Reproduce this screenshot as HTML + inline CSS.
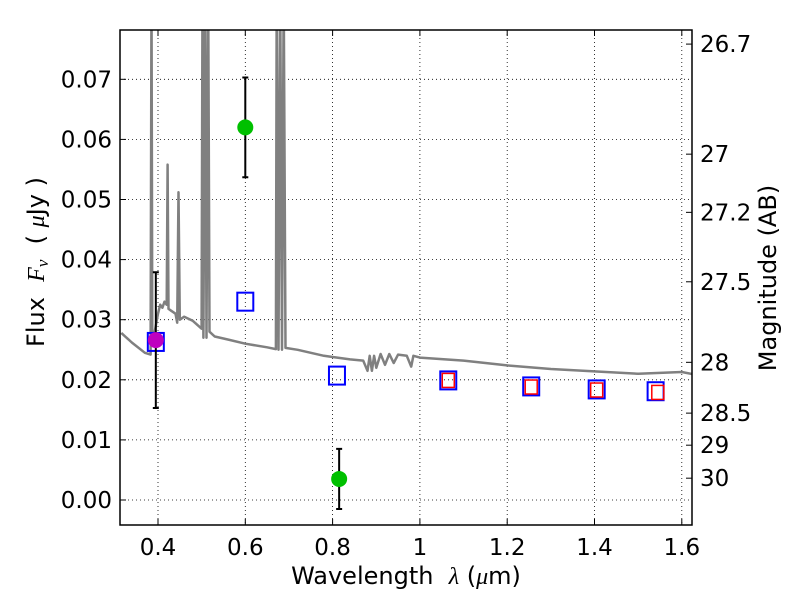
<!DOCTYPE html>
<html><head><meta charset="utf-8"><style>
body{margin:0;background:#fff}
svg{display:block;font-family:"DejaVu Sans","Liberation Sans",sans-serif}
text{white-space:pre}
</style></head><body>
<svg id="c" width="800" height="600"></svg>
<script>
const specWave=[0.316,0.34,0.37,0.383,0.385,0.387,0.39,0.395,0.40,0.405,0.41,0.415,0.42,0.422,0.424,0.43,0.44,0.444,0.447,0.45,0.46,0.48,0.50,0.502,0.504,0.508,0.511,0.515,0.518,0.53,0.56,0.6,0.65,0.67,0.672,0.676,0.68,0.684,0.688,0.692,0.72,0.78,0.8,0.84,0.87,0.88,0.885,0.89,0.895,0.9,0.91,0.92,0.93,0.94,0.95,0.97,0.98,0.985,1.0,1.1,1.2,1.3,1.4,1.5,1.6,1.628];
const specFlux=[0.0278,0.0262,0.0245,0.0242,0.085,0.026,0.027,0.029,0.031,0.0325,0.032,0.033,0.0325,0.0558,0.0318,0.0315,0.031,0.0295,0.0512,0.030,0.0305,0.0298,0.0285,0.085,0.027,0.085,0.027,0.085,0.028,0.0272,0.0267,0.026,0.0254,0.0251,0.085,0.025,0.085,0.025,0.085,0.0253,0.025,0.024,0.0238,0.0234,0.0232,0.0215,0.024,0.0215,0.024,0.022,0.0243,0.0225,0.0243,0.0228,0.0242,0.024,0.0222,0.024,0.0237,0.0232,0.0224,0.0218,0.0214,0.021,0.0213,0.0209];
const obsWave=[0.6,0.815];
const obsFlux=[0.062,0.0035];
const obsErr=[0.0083,0.005];
const magWave=[0.395];
const magFlux=[0.0266];
const magErr=[0.0113];
const blueWave=[0.395,0.6,0.81,1.065,1.255,1.405,1.54];
const blueFlux=[0.0263,0.033,0.0207,0.0199,0.0189,0.0184,0.0181];
const redWave=[1.065,1.255,1.405,1.545];
const redFlux=[0.0199,0.0188,0.0183,0.0179];
const xTicks=[0.4,0.6,0.8,1.0,1.2,1.4,1.6];
const xTickLabels=["0.4","0.6","0.8","1","1.2","1.4","1.6"];
const yTicks=[0,0.01,0.02,0.03,0.04,0.05,0.06,0.07];
const yTickLabels=["0.00","0.01","0.02","0.03","0.04","0.05","0.06","0.07"];
const magTicks=[26.7,27,27.2,27.5,28,28.5,29,30];
const magTickLabels=["26.7","27","27.2","27.5","28","28.5","29","30"];

const L=120,R=692,T=30,B=525;
const X=w=>158+(w-0.4)*436.5;
const Y=f=>500-f*6010;
const NS="http://www.w3.org/2000/svg";
const svg=document.getElementById('c');
function el(t,a,p){const e=document.createElementNS(NS,t);for(const k in a)e.setAttribute(k,a[k]);(p||svg).appendChild(e);return e;}
const defs=el('defs',{});const cp=el('clipPath',{id:'cp'},defs);el('rect',{x:L,y:T,width:R-L,height:B-T},cp);
const g=el('g',{'clip-path':'url(#cp)'});
xTicks.forEach(v=>{const l=el('line',{x1:X(v),x2:X(v),y1:T,y2:B,stroke:'#000','stroke-width':0.8,'stroke-dasharray':'1,3'},g);

});
yTicks.forEach(v=>{const l=el('line',{x1:L,x2:R,y1:Y(v),y2:Y(v),stroke:'#000','stroke-width':0.8,'stroke-dasharray':'1,3'},g);

});
let d=specWave.map((w,i)=>(i?'L':'M')+X(w).toFixed(1)+','+Y(specFlux[i]).toFixed(1)).join('');
const sp=el('path',{d:d,fill:'none',stroke:'#808080','stroke-width':2.5,'stroke-linejoin':'round'},g);


blueWave.forEach((w,i)=>{const r=el('rect',{x:X(w)-8,y:Y(blueFlux[i])-9,width:16,height:18,fill:'none',stroke:'#0000ff','stroke-width':2},g);

});
redWave.forEach((w,i)=>{const r=el('rect',{x:X(w)-6,y:Y(redFlux[i])-7,width:12,height:14,fill:'none',stroke:'#ff0000','stroke-width':1.5},g);

});
function errPts(ws,fs,es,col,name){ws.forEach((w,i)=>{const x=X(w),y1=Y(fs[i]-es[i]),y2=Y(fs[i]+es[i]);
const eb=el('path',{d:`M${x},${y1}L${x},${y2}M${x-3},${y1}L${x+3},${y1}M${x-3},${y2}L${x+3},${y2}`,stroke:'#000','stroke-width':2,fill:'none'},g);


const c=el('circle',{cx:x,cy:Y(fs[i]),r:8,fill:col},g);

});}
errPts(obsWave,obsFlux,obsErr,'#00c000','observed-flux-point');
errPts(magWave,magFlux,magErr,'#bf00bf','magenta-flux-point');
const fr=el('rect',{x:L,y:T,width:R-L,height:B-T,fill:'none',stroke:'#000','stroke-width':1.5});


xTicks.forEach((v,i)=>{el('line',{x1:X(v),x2:X(v),y1:B,y2:B-6,stroke:'#000'});el('line',{x1:X(v),x2:X(v),y1:T,y2:T+6,stroke:'#000'});
const t=el('text',{x:X(v),y:B+30,'font-size':23,'text-anchor':'middle'});t.textContent=xTickLabels[i];

});
yTicks.forEach((v,i)=>{el('line',{x1:L,x2:L+6,y1:Y(v),y2:Y(v),stroke:'#000'});
const t=el('text',{x:L-8,y:Y(v)+8,'font-size':23,'text-anchor':'end'});t.textContent=yTickLabels[i];

});
magTicks.forEach((m,i)=>{const f=Math.pow(10,(23.9-m)/2.5);const y=Y(f);
el('line',{x1:R,x2:R-6,y1:y,y2:y,stroke:'#000'});
const t=el('text',{x:R+8,y:y+8,'font-size':23});t.textContent=magTickLabels[i];

});
const xt=el('text',{x:406,y:584,'font-size':24,'text-anchor':'middle'});


xt.innerHTML='Wavelength  <tspan font-family="Liberation Serif" font-style="italic">λ</tspan> (<tspan font-family="Liberation Serif" font-style="italic">μ</tspan>m)';
const yt=el('text',{x:44,y:262,'font-size':24,'text-anchor':'middle',transform:'rotate(-90 44 262)'});


yt.innerHTML='Flux  <tspan font-family="Liberation Serif" font-style="italic">F</tspan><tspan font-family="Liberation Serif" font-style="italic" font-size="17" dy="4">ν</tspan><tspan dy="-4">  ( </tspan><tspan font-family="Liberation Serif" font-style="italic">μ</tspan><tspan>Jy )</tspan>';
const rt=el('text',{x:776,y:278,'font-size':24,'text-anchor':'middle',transform:'rotate(-90 776 278)'});rt.textContent='Magnitude (AB)';


</script>
</body></html>
